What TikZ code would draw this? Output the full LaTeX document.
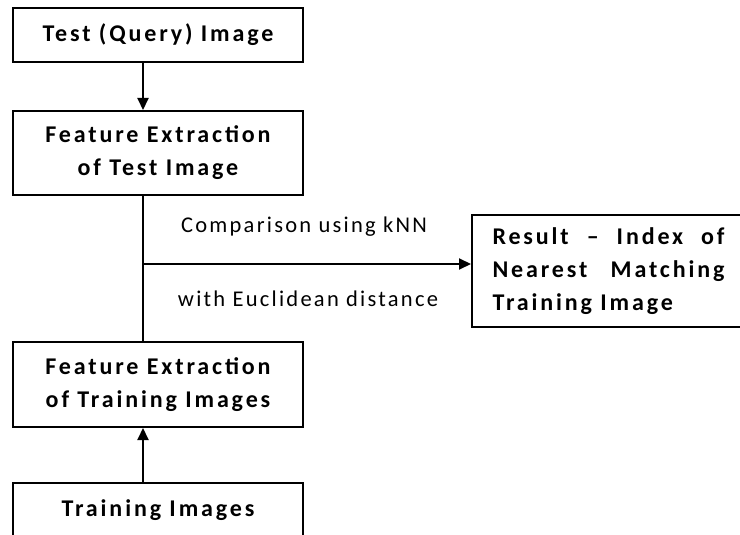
\documentclass[tikz,border=0pt]{standalone}
\usepackage{fontspec}
\setmainfont{Carlito}
\newfontfamily\boxfont{Carlito}[LetterSpace=12]
\newfontfamily\notefont{Carlito}[LetterSpace=10]
\usetikzlibrary{arrows.meta}

\begin{document}
\begin{tikzpicture}[x=1pt,y=-1pt,
  box/.style={draw,line width=2pt,minimum width=290pt,inner sep=0pt,
    align=center,font=\boxfont\fontsize{24}{33}\selectfont\bfseries},
  link/.style={line width=2pt,-{Triangle[length=12pt,width=11pt]}},
  note/.style={font=\notefont\fontsize{22.5}{26}\selectfont}]

  % page frame, the bottom box runs off the edge
  \useasboundingbox (0,0) rectangle (740,535);
  \clip (0,0) rectangle (740,535);

  % left column
  \node[box,minimum height=54pt] (query) at (158,35) {Test (Query) Image};
  \node[box,minimum height=84pt] (testfeat) at (158,153) {Feature Extraction\\of Test Image};
  \node[box,minimum height=85pt] (trainfeat) at (158,384.5) {Feature Extraction\\of Training Images};
  \node[box,minimum height=54pt] (train) at (158,510) {Training Images};

  % result on the right
  \node[box,minimum width=273pt,minimum height=112pt,text width=232pt,align=justify]
    (result) at (608.5,271) {Result – Index of\linebreak Nearest Matching\linebreak Training Image};

  % matching step
  \coordinate (split) at (143,264);
  \draw[link] (query.south -| split) -- (testfeat.north -| split);
  \draw[link] (train.north -| split) -- (trainfeat.south -| split);
  \draw[line width=2pt] (testfeat.south -| split) -- (trainfeat.north -| split);
  \draw[link] (split) -- (split -| result.west);

  \node[note] (knn) at (304,227) {Comparison using kNN};
  \node[note] (dist) at (308,299) {with Euclidean distance};

\end{tikzpicture}
\end{document}
